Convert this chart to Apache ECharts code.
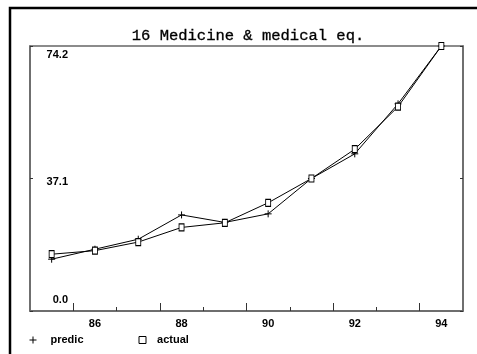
<!DOCTYPE html>
<html>
<head>
<meta charset="utf-8">
<script src="https://cdn.jsdelivr.net/npm/echarts@6/dist/echarts.min.js"></script>
<style>
  html, body { margin: 0; padding: 0; background: #fff; }
  #chart { width: 477px; height: 354px; }
</style>
</head>
<body>
<div id="chart"></div>
<script>
// Years and the two series (value index for medicine & medical equipment)
const years = [85, 86, 87, 88, 89, 90, 91, 92, 93, 94];
const predic = [14.5, 17.3, 20.1, 26.9, 24.8, 27.2, 37.1, 44.0, 58.0, 74.2];
const actual = [15.9, 16.9, 19.3, 23.4, 24.7, 30.3, 37.1, 45.3, 57.2, 74.2];

// Axis labels and tick positions
const xLabelValues = [86, 88, 90, 92, 94];
const xMajorTicks = [85.5, 87.5, 89.5, 91.5, 93.5];
const xMinorTicks = [86.5, 88.5, 90.5, 92.5];
const yMin = 0;
const yMax = 74.2;
const yStep = 37.1;

const plusPath = 'path://M3 0L3 6M0 3L6 3';
const labelFont = '"Liberation Sans", Arial, sans-serif';

const chart = echarts.init(document.getElementById('chart'), null, { renderer: 'canvas' });

const pairs = (vals) => years.map((y, i) => [y, vals[i]]);

chart.setOption({
  animation: false,
  backgroundColor: '#fff',
  title: {
    text: '16 Medicine & medical eq.',
    left: 243,
    textAlign: 'center',
    top: 23,
    textStyle: {
      fontFamily: '"Liberation Mono", "Courier New", monospace',
      fontWeight: 'normal',
      fontSize: 15.5,
      color: '#000',
      textBorderColor: '#000',
      textBorderWidth: 0.3
    }
  },
  graphic: [{
    type: 'rect',
    shape: { x: 10, y: 8, width: 500, height: 400 },
    style: { fill: 'none', stroke: '#000', lineWidth: 2.5 },
    silent: true
  }],
  legend: {
    left: 27,
    top: 334,
    padding: 0,
    itemWidth: 7,
    itemHeight: 7,
    itemGap: 55,
    textStyle: {
      fontFamily: labelFont,
      fontWeight: 'bold',
      fontSize: 11,
      color: '#000',
      padding: [0, 0, 0, 9]
    },
    data: [
      { name: 'predic', icon: plusPath, itemStyle: { color: 'none', borderColor: '#000', borderWidth: 1 } },
      {
        name: 'actual', icon: 'rect',
        itemStyle: { color: '#fff', borderColor: '#000', borderWidth: 1 },
        textStyle: { padding: [0, 0, 0, 6] }
      }
    ]
  },
  grid: {
    left: 30, top: 46, right: 14, bottom: 43,
    show: true,
    borderColor: '#666',
    borderWidth: 1.5,
    backgroundColor: 'transparent'
  },
  xAxis: [{
    type: 'value',
    min: 84.5,
    max: 94.5,
    position: 'bottom',
    splitLine: { show: false },
    axisLine: { show: true, lineStyle: { color: '#666', width: 1.5 } },
    axisTick: {
      show: true, inside: true, length: 8,
      customValues: xMajorTicks,
      lineStyle: { color: '#333', width: 1 }
    },
    axisLabel: {
      customValues: xLabelValues,
      margin: 7,
      fontFamily: labelFont,
      fontWeight: 'bold',
      fontSize: 11,
      color: '#000'
    }
  }, {
    type: 'value',
    min: 84.5,
    max: 94.5,
    position: 'bottom',
    splitLine: { show: false },
    axisLine: { show: false },
    axisTick: {
      show: true, inside: true, length: 4,
      customValues: xMinorTicks,
      lineStyle: { color: '#333', width: 1 }
    },
    axisLabel: { show: false }
  }],
  yAxis: [{
    type: 'value',
    min: yMin,
    max: yMax,
    interval: yStep,
    position: 'left',
    splitLine: { show: false },
    axisLine: { show: true, lineStyle: { color: '#666', width: 1.5 } },
    axisTick: { show: true, inside: true, length: 3, lineStyle: { color: '#333' } },
    axisLabel: {
      inside: true,
      align: 'right',
      margin: 38,
      fontFamily: labelFont,
      fontWeight: 'bold',
      fontSize: 11,
      color: '#000',
      formatter: (v) => {
        const s = v.toFixed(1);
        if (v >= yMax) return '{hi|' + s + '}';
        if (v <= yMin) return '{lo|' + s + '}';
        return '{mid|' + s + '}';
      },
      rich: {
        hi: { padding: [18, 0, 0, 0], fontFamily: labelFont, fontWeight: 'bold', fontSize: 11 },
        mid: { padding: [6, 0, 0, 0], fontFamily: labelFont, fontWeight: 'bold', fontSize: 11 },
        lo: { padding: [0, 0, 22, 0], fontFamily: labelFont, fontWeight: 'bold', fontSize: 11 }
      }
    }
  }, {
    type: 'value',
    min: yMin,
    max: yMax,
    interval: yStep,
    position: 'right',
    splitLine: { show: false },
    axisLine: { show: true, lineStyle: { color: '#666', width: 1.5 } },
    axisTick: { show: true, inside: true, length: 3, lineStyle: { color: '#333' } },
    axisLabel: { show: false }
  }],
  series: [{
    name: 'predic',
    type: 'line',
    xAxisIndex: 0,
    yAxisIndex: 0,
    data: pairs(predic),
    symbol: plusPath,
    symbolSize: 7,
    showAllSymbol: true,
    lineStyle: { color: '#000', width: 1 },
    itemStyle: { color: 'none', borderColor: '#000', borderWidth: 1 },
    z: 3
  }, {
    name: 'actual',
    type: 'line',
    xAxisIndex: 0,
    yAxisIndex: 0,
    data: pairs(actual),
    symbol: 'rect',
    symbolSize: [5, 7],
    showAllSymbol: true,
    lineStyle: { color: '#000', width: 1 },
    itemStyle: { color: '#fff', borderColor: '#000', borderWidth: 1 },
    z: 4
  }]
});
</script>
</body>
</html>
